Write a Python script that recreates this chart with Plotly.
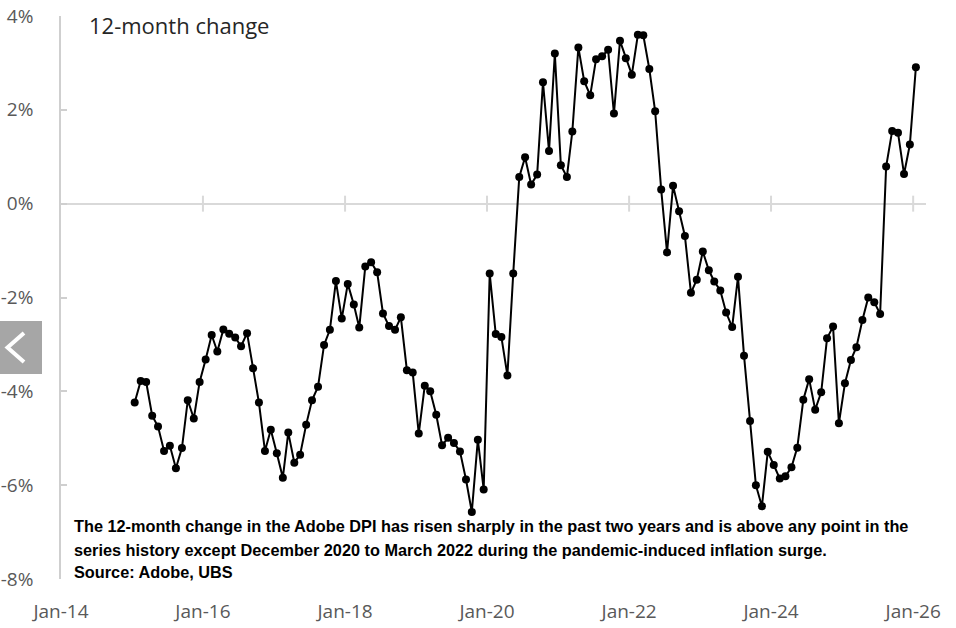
import pandas as pd
import plotly.graph_objects as go

# 12-month change in Adobe DPI (%), monthly Jan 2015 .. Jan 2026
values = [
    -4.24, -3.78, -3.80, -4.52, -4.75, -5.27, -5.16, -5.64, -5.21, -4.19, -4.58, -3.80,
    -3.32, -2.80, -3.15, -2.68, -2.77, -2.85, -3.04, -2.76, -3.51, -4.24, -5.27, -4.82,
    -5.32, -5.84, -4.88, -5.52, -5.35, -4.71, -4.19, -3.90, -3.01, -2.69, -1.65, -2.45,
    -1.71, -2.15, -2.64, -1.34, -1.25, -1.46, -2.34, -2.61, -2.69, -2.42, -3.55, -3.60,
    -4.90, -3.88, -4.00, -4.50, -5.15, -4.99, -5.10, -5.28, -5.88, -6.57, -5.03, -6.09,
    -1.49, -2.78, -2.84, -3.66, -1.49, 0.57, 0.99, 0.41, 0.62, 2.59, 1.12, 3.20,
    0.82, 0.57, 1.54, 3.33, 2.61, 2.31, 3.08, 3.14, 3.28, 1.92, 3.47, 3.10,
    2.75, 3.60, 3.59, 2.87, 1.97, 0.30, -1.04, 0.38, -0.16, -0.69, -1.90, -1.62,
    -1.02, -1.42, -1.66, -1.85, -2.32, -2.63, -1.56, -3.24, -4.63, -6.00, -6.45, -5.29,
    -5.57, -5.86, -5.81, -5.62, -5.20, -4.18, -3.74, -4.39, -4.02, -2.87, -2.62, -4.68,
    -3.83, -3.33, -3.06, -2.48, -2.00, -2.10, -2.35, 0.79, 1.55, 1.51, 0.63, 1.26,
    2.91,
]
dates = pd.date_range("2015-01-15", periods=len(values), freq=pd.DateOffset(months=1))

x_tick_vals = ["2014-01-01", "2016-01-01", "2018-01-01", "2020-01-01",
               "2022-01-01", "2024-01-01", "2026-01-01"]
x_tick_text = ["Jan-14", "Jan-16", "Jan-18", "Jan-20", "Jan-22", "Jan-24", "Jan-26"]
y_tick_vals = [4, 2, 0, -2, -4, -6, -8]
y_tick_text = ["4%", "2%", "0%", "-2%", "-4%", "-6%", "-8%"]

title_text = "12-month change"
note_lines = [
    "The 12-month change in the Adobe DPI has risen sharply in the past two years and is above any point in the",
    "series history except December 2020 to March 2022 during the pandemic-induced inflation surge.",
    "Source: Adobe, UBS",
]

W, H = 956, 628
L, R, T, B = 61, 30, 16, 49
pw, ph = W - L - R, H - T - B

def px(x):
    return (x - L) / pw

def py(y):
    return (H - B - y) / ph

fig = go.Figure()
fig.add_trace(go.Scatter(
    x=dates, y=values, mode="lines+markers",
    line=dict(color="#000000", width=2),
    marker=dict(color="#000000", size=8),
    hoverinfo="x+y",
))

tick_col = "#595959"
fig.update_layout(
    width=W, height=H,
    margin=dict(l=L, r=R, t=T, b=B, pad=0, autoexpand=False),
    paper_bgcolor="white", plot_bgcolor="white",
    showlegend=False,
    xaxis=dict(
        type="date", range=["2014-01-01", "2026-03-08"],
        tickvals=x_tick_vals, ticktext=x_tick_text,
        showgrid=False, zeroline=False, showline=False,
        ticks="outside", ticklen=15, tickcolor="rgba(0,0,0,0)",
        tickfont=dict(family="Open Sans", size=19, color=tick_col),
    ),
    yaxis=dict(
        range=[-8, 4], tickvals=y_tick_vals, ticktext=y_tick_text,
        showgrid=False, zeroline=True, zerolinecolor="#d9d9d9", zerolinewidth=2,
        showline=True, linecolor="#cfcfcf", linewidth=1.5,
        ticks="inside", ticklen=6, tickcolor="#cfcfcf", tickwidth=1.5,
        tickfont=dict(family="Open Sans", size=19, color=tick_col),
        ticklabelstandoff=22,
    ),
)

# cross tick marks on the zero line at each x tick
for tv in x_tick_vals[1:]:
    fig.add_shape(type="line", xref="x", yref="y", x0=tv, x1=tv, y0=-0.17, y1=0.17,
                  line=dict(color="#d9d9d9", width=2))

fig.add_annotation(
    xref="paper", yref="paper", x=px(87), y=py(25), xanchor="left", yanchor="middle",
    text=title_text, showarrow=False,
    font=dict(family="Open Sans", size=22, color="#262626"),
)
for line_text, yc in zip(note_lines, [526, 549.5, 571.5]):
    fig.add_annotation(
        xref="paper", yref="paper", x=px(72), y=py(yc), xanchor="left", yanchor="middle",
        text=f"<b>{line_text}</b>", showarrow=False, align="left",
        font=dict(family="Liberation Sans, Arial, sans-serif", size=16.3, color="#000000"),
    )

# grey side navigation box with chevron
fig.add_shape(type="rect", xref="paper", yref="paper",
              x0=px(0), x1=px(42), y0=py(374), y1=py(321),
              fillcolor="#a6a6a6", line=dict(width=0), layer="above")
fig.add_shape(type="path", xref="paper", yref="paper",
              path=f"M {px(24)} {py(333)} L {px(7.5)} {py(347.5)} L {px(24)} {py(362)}",
              line=dict(color="white", width=4), layer="above")

fig.write_html(
    "out.html",
    config={"displayModeBar": False},
    post_script="document.body.style.margin='0';document.body.style.overflow='hidden';",
)
